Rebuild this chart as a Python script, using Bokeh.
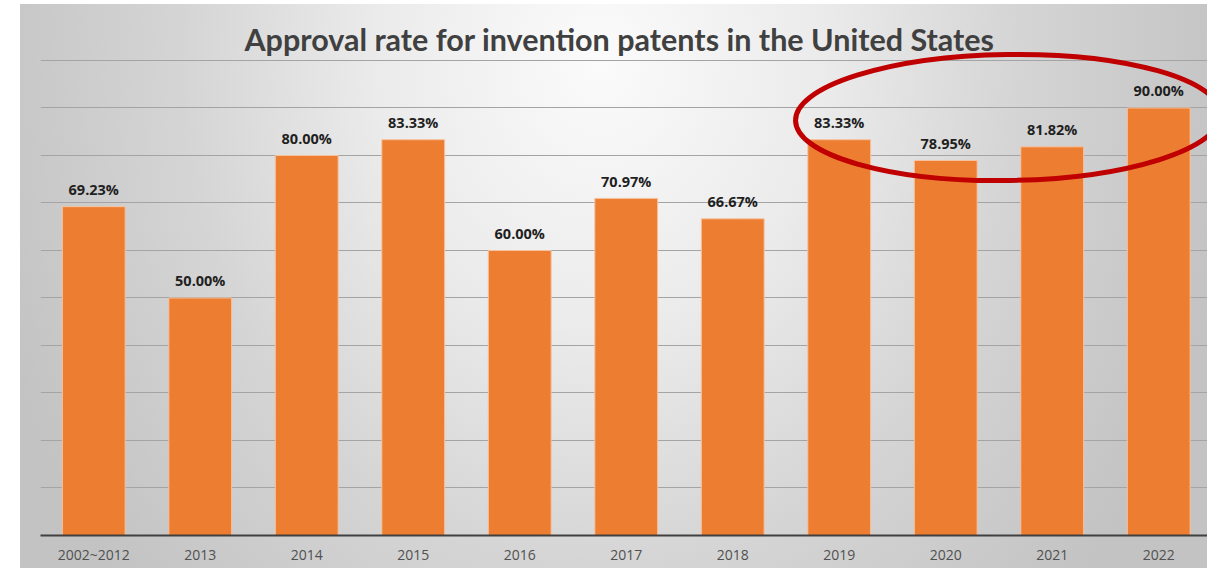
from bokeh.plotting import figure
from bokeh.models import Range1d, FixedTicker, Label, ColumnDataSource
from bokeh.core.properties import value
from bokeh.embed import file_html
from bokeh.resources import INLINE

# ---- data ----
categories = ["2002~2012", "2013", "2014", "2015", "2016", "2017",
              "2018", "2019", "2020", "2021", "2022"]
rates = [69.23, 50.00, 80.00, 83.33, 60.00, 70.97, 66.67, 83.33, 78.95, 81.82, 90.00]
grid_ticks = [10, 20, 30, 40, 50, 60, 70, 80, 90, 100]
title_text = "Approval rate for invention patents in the United States"
highlight = ["2019", "2020", "2021", "2022"]

xs = list(range(len(categories)))
labels = [f"{v:.2f}%" for v in rates]
src = ColumnDataSource(dict(x=xs, top=rates, label=labels, cat=categories))

bg = ("linear-gradient(to right, #ffffff 20px, transparent 20px), "
      "linear-gradient(to bottom, #ffffff 4px, transparent 4px), "
      "radial-gradient(ellipse 640px 780px at 600px 58px, #fbfbfb 0%, #ebebeb 35%, #d5d5d5 65%, #c3c3c3 100%)")

p = figure(width=1207, height=568, output_backend="svg", toolbar_location=None,
           x_range=Range1d(-0.5, 10.458), y_range=Range1d(0, 112.63),
           min_border_left=40, min_border_right=0, min_border_top=0, min_border_bottom=33,
           styles={"background": bg})
p.border_fill_color = None
p.background_fill_color = None
p.outline_line_color = None

# grid
p.yaxis.visible = False
p.ygrid.ticker = FixedTicker(ticks=grid_ticks)
p.ygrid.grid_line_color = "#a4a4a4"
p.ygrid.grid_line_width = 1
p.xgrid.grid_line_color = None

# x axis
p.xaxis.ticker = FixedTicker(ticks=xs)
p.xaxis.major_label_overrides = {i: c for i, c in zip(xs, categories)}
p.xaxis.major_tick_line_color = None
p.xaxis.minor_tick_line_color = None
p.xaxis.major_tick_out = 0
p.xaxis.major_tick_in = 0
p.xaxis.axis_line_color = "#404040"
p.xaxis.axis_line_width = 2
p.xaxis.major_label_standoff = 9
p.xaxis.major_label_text_font = "Open Sans"
p.xaxis.major_label_text_font_size = "14px"
p.xaxis.major_label_text_color = "#505050"

# bars
p.vbar(x="x", top="top", bottom=0, width=0.59, source=src,
       fill_color="#ED7D31", line_color="#F6C3A0", line_width=1)

# value labels
p.text(x="x", y="top", text="label", source=src, text_align="center",
       text_baseline="alphabetic", y_offset=-17,
       text_font=value("Open Sans"), text_font_style="bold",
       text_font_size="14.5px", text_color="#1f1f1f")

# title
p.add_layout(Label(x=4.937, y=104.6, text=title_text, text_align="center",
                   text_baseline="alphabetic", text_font="Lato",
                   text_font_style="bold", text_font_size="30.5px",
                   text_color="#404040"))

# highlight ellipse around the last four years
hx = (categories.index(highlight[0]) + categories.index(highlight[-1])) / 2 + 0.085
p.ellipse(x=[hx], y=[88.0], width=[425], height=[126], angle=0.015,
          width_units="screen", height_units="screen",
          fill_alpha=0, line_color="#C00000", line_width=5)

open("out.html", "w").write(file_html(p, INLINE))
